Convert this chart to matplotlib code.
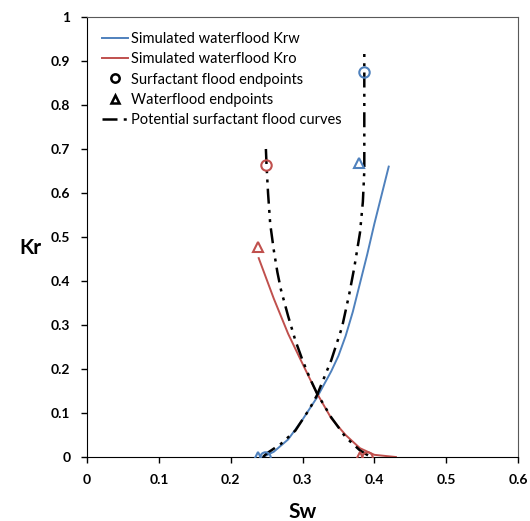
import matplotlib
matplotlib.use('Agg')
import matplotlib.pyplot as plt
from matplotlib.lines import Line2D

plt.rcParams['font.family'] = ['Lato', 'DejaVu Sans']

blue = '#4F81BD'
red = '#C0504D'

# simulated waterflood curves
sw_krw = [0.245, 0.26, 0.28, 0.30, 0.32, 0.34, 0.35, 0.36, 0.37, 0.38, 0.39, 0.40, 0.41, 0.42]
krw = [0.0, 0.012, 0.04, 0.085, 0.135, 0.195, 0.23, 0.275, 0.33, 0.395, 0.46, 0.53, 0.595, 0.66]
sw_kro = [0.239, 0.26, 0.28, 0.30, 0.32, 0.34, 0.36, 0.38, 0.40, 0.43]
kro = [0.452, 0.36, 0.28, 0.212, 0.145, 0.088, 0.05, 0.02, 0.005, 0.0]

# potential surfactant flood curves
sw_surf_kro = [0.249, 0.25, 0.252, 0.255, 0.26, 0.265, 0.27, 0.28, 0.29, 0.30, 0.31, 0.32, 0.34, 0.36, 0.38, 0.395]
surf_kro = [0.70, 0.66, 0.60, 0.53, 0.47, 0.42, 0.38, 0.32, 0.265, 0.22, 0.18, 0.145, 0.09, 0.045, 0.015, 0.0]
sw_surf_krw = [0.245, 0.25, 0.27, 0.29, 0.31, 0.32, 0.34, 0.355, 0.365, 0.372, 0.38, 0.384, 0.386, 0.386]
surf_krw = [0.0, 0.008, 0.03, 0.06, 0.11, 0.14, 0.22, 0.295, 0.37, 0.43, 0.51, 0.58, 0.65, 0.92]

# endpoints
surf_end_sw_krw = [0.386, 0.248]
surf_end_krw = [0.875, 0.0]
surf_end_sw_kro = [0.249, 0.39]
surf_end_kro = [0.664, 0.0]
wf_end_sw_krw = [0.378, 0.238]
wf_end_krw = [0.668, 0.0]
wf_end_sw_kro = [0.238, 0.38]
wf_end_kro = [0.478, 0.0]

fig = plt.figure(figsize=(5.3, 5.21), dpi=100)
ax = fig.add_axes([0.1642, 0.1228, 0.8132, 0.8446])

dashdotdot = (0, (6, 2.5, 1.2, 2.5, 1.2, 2.5))

ax.plot(sw_krw, krw, color=blue, lw=1.4, zorder=2)
ax.plot(sw_kro, kro, color=red, lw=1.4, zorder=2)
ax.plot(sw_surf_kro, surf_kro, color='black', lw=1.8, linestyle=dashdotdot, zorder=3)
ax.plot(sw_surf_krw, surf_krw, color='black', lw=1.8, linestyle=dashdotdot, zorder=3)

mk = dict(linestyle='none', markersize=7.5, markeredgewidth=1.5, markerfacecolor='none', zorder=4)
ax.plot(surf_end_sw_krw, surf_end_krw, marker='o', markeredgecolor=blue, **mk)
ax.plot(surf_end_sw_kro, surf_end_kro, marker='o', markeredgecolor=red, **mk)
ax.plot(wf_end_sw_krw, wf_end_krw, marker='^', markeredgecolor=blue, **mk)
ax.plot(wf_end_sw_kro, wf_end_kro, marker='^', markeredgecolor=red, **mk)

ax.set_xlim(0, 0.6)
ax.set_ylim(0, 1)
ax.set_xticks([0, 0.1, 0.2, 0.3, 0.4, 0.5, 0.6])
ax.set_xticklabels(['0', '0.1', '0.2', '0.3', '0.4', '0.5', '0.6'])
ax.set_yticks([0, 0.1, 0.2, 0.3, 0.4, 0.5, 0.6, 0.7, 0.8, 0.9, 1])
ax.set_yticklabels(['0', '0.1', '0.2', '0.3', '0.4', '0.5', '0.6', '0.7', '0.8', '0.9', '1'])
ax.tick_params(direction='out', length=4, width=1, labelsize=10, pad=8)
for lab in ax.get_xticklabels() + ax.get_yticklabels():
    lab.set_fontweight('bold')

for s in ['left', 'bottom']:
    ax.spines[s].set_color('black')
for s in ['top', 'right']:
    ax.spines[s].set_color('#595959')

ax.set_xlabel('Sw', fontsize=15, fontweight='bold', labelpad=12)
ax.set_ylabel('Kr', fontsize=15, fontweight='bold', rotation=0)
ax.yaxis.set_label_coords(-0.132, 0.452)

handles = [
    Line2D([], [], color=blue, lw=1.4),
    Line2D([], [], color=red, lw=1.4),
    Line2D([], [], marker='o', color='black', linestyle='none', markersize=6,
           markeredgewidth=1.8, markerfacecolor='none'),
    Line2D([], [], marker='^', color='black', linestyle='none', markersize=6,
           markeredgewidth=1.8, markerfacecolor='none'),
    Line2D([], [], color='black', lw=1.8, linestyle=(0, (6, 2.5, 1.2, 2.5))),
]
labels = ['Simulated waterflood Krw', 'Simulated waterflood Kro',
          'Surfactant flood endpoints', 'Waterflood endpoints',
          'Potential surfactant flood curves']
ax.legend(handles, labels, loc='upper left', bbox_to_anchor=(0.015, 0.985),
          frameon=False, fontsize=10.5, handlelength=1.8, handletextpad=0.2,
          labelspacing=0.42, borderaxespad=0.2)

fig.savefig('out.png', dpi=100)
